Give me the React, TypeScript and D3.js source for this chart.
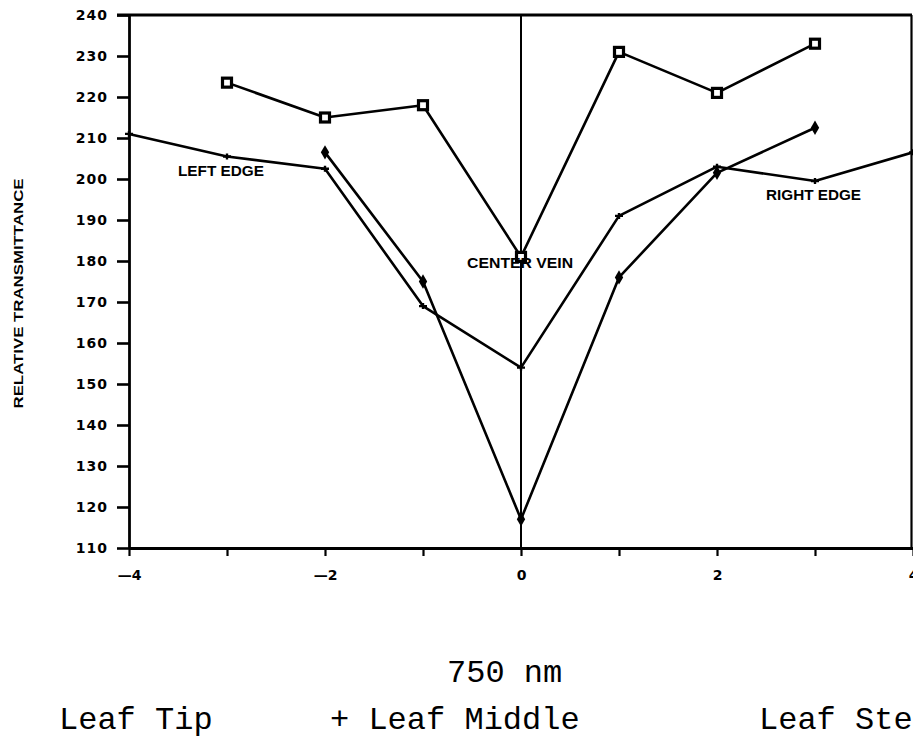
import { useEffect, useRef } from 'react';
import * as d3 from 'd3';

// leaf position across the leaf (-4 = left edge, 0 = center vein, 4 = right edge)
const stemX = [-3, -2, -1, 0, 1, 2, 3];
const stemY = [223.5, 215, 218, 181, 231, 221, 233];

const tipX = [-2, -1, 0, 1, 2, 3];
const tipY = [206.5, 175, 117, 176, 201.5, 212.5];

const middleX = [-4, -3, -2, -1, 0, 1, 2, 3, 4];
const middleY = [211, 205.5, 202.5, 169, 154, 191, 203, 199.5, 206.5];

const yTicks = [110, 120, 130, 140, 150, 160, 170, 180, 190, 200, 210, 220, 230, 240];
const xTicks = [-4, -3, -2, -1, 0, 1, 2, 3, 4];
const xTickLabels = [-4, -2, 0, 2, 4];

const annotations = [
    { text: 'LEFT EDGE', x: -3.5, y: 200.8, len: 86 },
    { text: 'CENTER VEIN', x: -0.55, y: 178.3, len: 106 },
    { text: 'RIGHT EDGE', x: 2.5, y: 194.9, len: 95 },
];

const legendItems = ['Leaf Tip', '+ Leaf Middle', 'Leaf Stem'];

const App = () => {
    const svgRef = useRef<SVGSVGElement>(null);

    useEffect(() => {
        document.body.style.margin = '0';
        const svg = d3.select(svgRef.current);
        svg.selectAll('*').remove();

        const width = 913;
        const height = 738;
        const margin = { top: 15, right: 0, bottom: 190, left: 129 };

        const x = d3.scaleLinear().domain([-4, 4]).range([margin.left, width - margin.right]);
        const y = d3.scaleLinear().domain([110, 240]).range([height - margin.bottom, margin.top]);

        const bold = '"DejaVu Sans", "Liberation Sans", sans-serif';

        // y axis
        svg.append('g')
            .attr('transform', `translate(${margin.left},0)`)
            .call(d3.axisLeft(y).tickValues(yTicks).tickSize(12).tickPadding(9).tickSizeOuter(0))
            .call((g) => g.select('.domain').attr('stroke-width', 2.8))
            .call((g) => g.selectAll('.tick line').attr('stroke-width', 2.6))
            .call((g) =>
                g.selectAll('.tick text')
                    .attr('font-family', bold)
                    .attr('font-weight', 'bold')
                    .attr('font-size', 14)
                    .attr('letter-spacing', 1)
                    .attr('fill', '#000'),
            );

        // x axis
        svg.append('g')
            .attr('transform', `translate(0,${y(110)})`)
            .call(
                d3.axisBottom(x)
                    .tickValues(xTicks)
                    .tickSize(8)
                    .tickPadding(14)
                    .tickSizeOuter(0)
                    .tickFormat((d) => (xTickLabels.includes(+d) ? (+d < 0 ? '\u2014' + Math.abs(+d) : String(d)) : '')),
            )
            .call((g) => g.select('.domain').attr('stroke-width', 2.8))
            .call((g) => g.selectAll('.tick line').attr('stroke-width', 2.2))
            .call((g) =>
                g.selectAll('.tick text')
                    .attr('font-family', bold)
                    .attr('font-weight', 'bold')
                    .attr('font-size', 14)
                    .attr('fill', '#000'),
            );

        // frame: top and right
        svg.append('line')
            .attr('x1', margin.left - 12).attr('x2', x(4) - 1)
            .attr('y1', y(240)).attr('y2', y(240))
            .attr('stroke', '#000').attr('stroke-width', 3.2);
        svg.append('line')
            .attr('x1', x(4) - 1.5).attr('x2', x(4) - 1.5)
            .attr('y1', y(240)).attr('y2', y(110))
            .attr('stroke', '#000').attr('stroke-width', 2.2);

        // center vein line
        svg.append('line')
            .attr('x1', x(0)).attr('x2', x(0))
            .attr('y1', y(240)).attr('y2', y(110))
            .attr('stroke', '#000').attr('stroke-width', 2);

        const line = d3.line<[number, number]>()
            .x((d) => x(d[0]))
            .y((d) => y(d[1]));

        const series = [
            { xs: stemX, ys: stemY, marker: 'square' },
            { xs: tipX, ys: tipY, marker: 'diamond' },
            { xs: middleX, ys: middleY, marker: 'plus' },
        ];

        series.forEach((s) => {
            const pts = s.xs.map((v, i) => [v, s.ys[i]] as [number, number]);
            svg.append('path')
                .datum(pts)
                .attr('fill', 'none')
                .attr('stroke', '#000')
                .attr('stroke-width', 2.6)
                .attr('stroke-linejoin', 'round')
                .attr('d', line);

            const g = svg.append('g');
            pts.forEach((p) => {
                const cx = x(p[0]);
                const cy = y(p[1]);
                if (s.marker === 'square') {
                    g.append('rect')
                        .attr('x', cx - 4.5).attr('y', cy - 4.5)
                        .attr('width', 9).attr('height', 9)
                        .attr('fill', '#fff').attr('stroke', '#000').attr('stroke-width', 3.2);
                } else if (s.marker === 'diamond') {
                    g.append('path')
                        .attr('d', d3.symbol(d3.symbolDiamond, 60)())
                        .attr('transform', `translate(${cx},${cy})`)
                        .attr('fill', '#000');
                } else {
                    g.append('path')
                        .attr('d', `M${cx - 4},${cy}H${cx + 4}M${cx},${cy - 3}V${cy + 3}`)
                        .attr('stroke', '#000').attr('stroke-width', 2.4);
                }
            });
        });

        // region annotations
        annotations.forEach((a) => {
            svg.append('text')
                .attr('x', x(a.x))
                .attr('y', y(a.y))
                .attr('font-family', '"Liberation Sans", Arial, sans-serif')
                .attr('font-weight', 'bold')
                .attr('font-size', 14)
                .attr('textLength', a.len)
                .attr('lengthAdjust', 'spacingAndGlyphs')
                .attr('fill', '#000')
                .text(a.text);
        });

        // y axis title
        svg.append('text')
            .attr('transform', `translate(23,${(y(240) + y(110)) / 2 + 12}) rotate(-90)`)
            .attr('text-anchor', 'middle')
            .attr('font-family', '"Liberation Sans", Arial, sans-serif')
            .attr('font-weight', 'bold')
            .attr('font-size', 13)
            .attr('textLength', 230)
            .attr('lengthAdjust', 'spacingAndGlyphs')
            .attr('fill', '#000')
            .text('RELATIVE TRANSMITTANCE');

        // caption and legend in typewriter font
        const mono = '"Liberation Mono", "Courier New", monospace';
        svg.append('text')
            .attr('x', 447)
            .attr('y', 682)
            .attr('font-family', mono)
            .attr('font-size', 32)
            .attr('fill', '#000')
            .text('750 nm');

        const legendX = [59, 330, 759];
        legendItems.forEach((t, i) => {
            svg.append('text')
                .attr('x', legendX[i])
                .attr('y', 729)
                .attr('font-family', mono)
                .attr('font-size', 32)
                .attr('fill', '#000')
                .attr('xml:space', 'preserve')
                .text(t);
        });
    }, []);

    return (
        <div>
            <svg
                ref={svgRef}
                width={913}
                height={738}
                style={{ position: 'absolute', left: 0, top: 0, background: '#fff', overflow: 'hidden' }}
            ></svg>
        </div>
    );
};

export default App;
